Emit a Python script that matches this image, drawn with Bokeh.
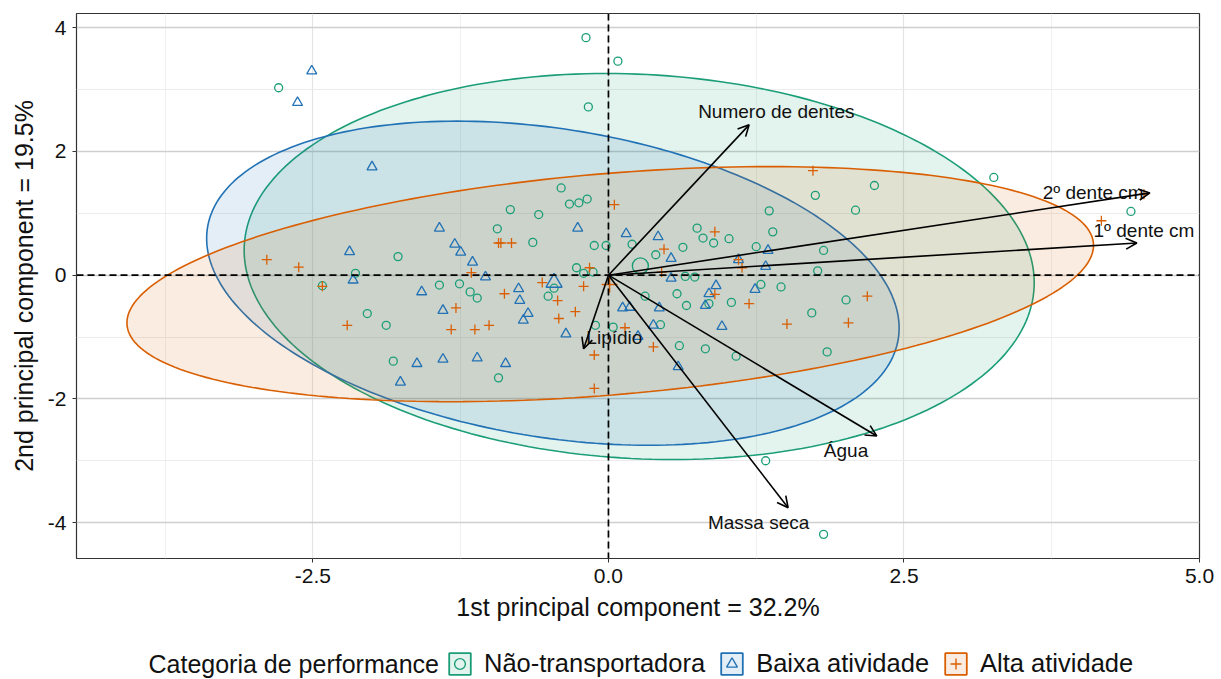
import numpy as np
from bokeh.plotting import figure
from bokeh.layouts import column
from bokeh.models import (ColumnDataSource, Range1d, FixedTicker, Span, Arrow, OpenHead,
                          Legend, LegendItem, Label)
from bokeh.core.properties import value
from bokeh.embed import file_html
from bokeh.resources import INLINE

# ---------------- data ----------------
groups = ["Não-transportadora", "Baixa atividade", "Alta atividade"]
colors = ["#1B9E77", "#2171B5", "#D95F02"]
markers = ["circle", "triangle", "cross"]

nt_x = [-2.79, -0.19, 0.08, -0.17, 3.26, 2.25, 1.75, 4.42, 2.09, 1.36, 1.39, 0.75, 0.80, 0.89,
        1.02, 0.63, 0.40, 0.20, 1.25, 1.82, 1.77, 0.65, 0.73, 1.29, 1.46, 0.31, 0.58, 0.66,
        0.85, 1.04, 2.01, 1.72, 0.44, 0.60, 0.82, 1.08, 1.85, 1.33, 1.82, -0.40, -0.83, -0.59,
        -0.33, -0.25, -0.18, -0.94, -0.64, -0.12, -0.02, -1.78, -2.14, -0.27, -0.21, -0.13,
        -2.42, -1.43, -1.26, -1.17, -1.11, -0.46, -0.51, -2.04, -1.88, -1.82, -0.93, -0.11, 0.04]
nt_y = [3.03, 3.84, 3.46, 2.72, 1.58, 1.45, 1.29, 1.03, 1.05, 1.04, 0.70, 0.76, 0.60, 0.52,
        0.59, 0.45, 0.33, 0.50, 0.46, 0.40, 0.07, -0.02, -0.03, -0.15, -0.19, -0.34, -0.30, -0.49,
        -0.46, -0.44, -0.40, -0.61, -0.80, -1.14, -1.19, -1.31, -1.24, -3.00, -4.19, 1.41, 1.06, 0.98,
        1.15, 1.17, 1.23, 0.75, 0.53, 0.48, 0.48, 0.30, 0.03, 0.12, 0.03, 0.05,
        -0.17, -0.16, -0.14, -0.27, -0.37, -0.21, -0.34, -0.62, -0.81, -1.39, -1.66, -0.81, -0.84]

ba_x = [-2.51, -2.63, -2.00, -1.43, -2.19, -1.30, -1.25, -1.15, -1.04, -2.16, -1.58, -1.40,
        -0.76, -0.75, -0.68, -0.72, -0.26, -0.36, -1.62, -1.40, -1.11, -0.87, -1.76, 0.15, 0.42,
        0.53, 0.53, 1.10, 1.35, 1.33, 0.91, 0.85, 0.82, 1.24, 0.96, 0.12, 0.18, 0.43, 0.38, 0.25, 0.59]
ba_y = [3.30, 2.79, 1.75, 0.76, 0.38, 0.50, 0.37, 0.21, -0.03, -0.08, -0.27, -0.57,
        -0.22, -0.41, -0.62, -0.73, 0.76, -0.95, -1.43, -1.36, -1.34, -1.43, -1.73, 0.67, 0.62,
        0.27, -0.05, 0.25, 0.40, 0.14, -0.17, -0.30, -0.49, -0.23, -0.83, -0.53, -0.52, -0.53, -0.81, -0.99, -1.48]

aa_x = [-2.89, -2.62, -2.42, -2.21, -0.93, -0.91, -0.82, -1.16, -1.29, -1.33, -1.13, -1.01,
        -0.88, -0.56, -0.43, -0.42, -0.28, -0.21, -0.16, -0.12, -0.12, 0.05, 1.73, 0.90, 0.47,
        1.10, 1.13, 0.45, 0.90, 1.19, 2.19, 1.51, 2.03, 0.14, 0.38, 4.53, 4.17]
aa_y = [0.25, 0.13, -0.18, -0.81, 0.52, 0.52, 0.52, 0.04, -0.53, -0.88, -0.88, -0.81,
        -0.30, -0.12, -0.41, -0.70, -0.59, -0.18, 0.12, -1.29, -1.83, 1.14, 1.69, 0.70, 0.42,
        0.25, 0.12, 0.05, -0.31, -0.46, -0.34, -0.79, -0.77, -0.85, -1.16, 1.31, 0.88]

# group centroids (large symbols)
cent_x = [0.27, -0.46, 0.01]
cent_y = [0.15, -0.12, -0.15]

# ellipse parameters: centre, half-width at centre row, vertical half-axis, chord-midpoint slope
ell_cx = [0.26, -0.47, 0.015]
ell_cy = [0.14, -0.13, -0.145]
ell_w = [3.33, 2.815, 3.86]
ell_ry = [3.12, 2.62, 1.90]
ell_k = [-0.09, -0.309, 0.709]

# loading vectors
var_names = ["Numero de dentes", "2º dente cm", "1º dente cm", "Água", "Massa seca", "Lipídio"]
var_x = [1.19, 4.58, 4.47, 2.27, 1.52, -0.21]
var_y = [2.43, 1.33, 0.52, -2.60, -3.76, -1.19]
lab_x = [1.42, 4.10, 4.53, 2.01, 1.27, 0.05]
lab_y = [2.65, 1.33, 0.73, -2.83, -4.00, -1.01]

x_ticks = [-2.5, 0.0, 2.5, 5.0]
x_tick_labels = ["-2.5", "0.0", "2.5", "5.0"]
x_minor = [-3.75, -1.25, 1.25, 3.75]
y_ticks = [-4, -2, 0, 2, 4]
y_tick_labels = ["-4", "-2", "0", "2", "4"]
y_minor = [-3, -1, 1, 3]

x_title = "1st principal component = 32.2%"
y_title = "2nd principal component = 19.5%"
legend_title = "Categoria de performance"

FONT = "Liberation Sans"
LEG_H = 50

# ---------------- main figure ----------------
p = figure(width=1221, height=679 - LEG_H, x_range=Range1d(-4.5, 5.0), y_range=Range1d(-4.58, 4.23),
           output_backend="svg", toolbar_location=None,
           min_border_left=76, min_border_right=22, min_border_top=13, min_border_bottom=121 - LEG_H)
p.outline_line_color = "#333333"
p.outline_line_width = 1.2
p.background_fill_color = "white"
p.border_fill_color = "white"

xt = FixedTicker(ticks=x_ticks, minor_ticks=x_minor)
yt = FixedTicker(ticks=y_ticks, minor_ticks=y_minor)
p.xaxis.ticker = xt
p.yaxis.ticker = yt
p.xgrid.ticker = xt
p.ygrid.ticker = yt
p.xgrid.grid_line_color = "#e4e4e4"
p.xgrid.grid_line_width = 1.2
p.xgrid.minor_grid_line_color = "#f0f0f0"
p.ygrid.grid_line_color = "#cfcfcf"
p.ygrid.grid_line_width = 1.6
p.ygrid.minor_grid_line_color = "#ececec"
p.ygrid.minor_grid_line_width = 1.2

p.xaxis.major_label_overrides = {t: s for t, s in zip(x_ticks, x_tick_labels)}
p.yaxis.major_label_overrides = {t: s for t, s in zip(y_ticks, y_tick_labels)}
p.xaxis.axis_label = x_title
p.yaxis.axis_label = y_title
for ax in (p.xaxis[0], p.yaxis[0]):
    ax.axis_line_color = None
    ax.major_tick_out = 4
    ax.major_tick_in = 0
    ax.minor_tick_out = 0
    ax.minor_tick_in = 0
    ax.major_tick_line_color = "#333333"
    ax.major_label_text_font = FONT
    ax.major_label_text_font_size = "21px"
    ax.major_label_text_color = "#111111"
    ax.major_label_standoff = 6
    ax.axis_label_text_font = FONT
    ax.axis_label_text_font_size = "25px"
    ax.axis_label_text_font_style = "normal"
    ax.axis_label_text_color = "#111111"
    ax.axis_label_standoff = 7

# ellipses
t = np.linspace(0, 2 * np.pi, 241)
ell_src = []
for i in range(3):
    ey = ell_cy[i] + ell_ry[i] * np.sin(t)
    ex = ell_cx[i] + ell_k[i] * ell_ry[i] * np.sin(t) + ell_w[i] * np.cos(t)
    src = ColumnDataSource(dict(x=ex, y=ey))
    ell_src.append(src)
    p.patch("x", "y", source=src, fill_color=colors[i], fill_alpha=0.12,
            line_color=colors[i], line_width=1.6)

# points
pts = [(nt_x, nt_y), (ba_x, ba_y), (aa_x, aa_y)]
sizes = [8, 10, 10]
pt_src = []
for i in range(3):
    src = ColumnDataSource(dict(x=pts[i][0], y=pts[i][1]))
    pt_src.append(src)
    p.scatter("x", "y", source=src, marker=markers[i], size=sizes[i],
              line_color=colors[i], fill_color=None, line_width=1.3)
    csrc = ColumnDataSource(dict(x=[cent_x[i]], y=[cent_y[i]]))
    p.scatter("x", "y", source=csrc, marker=markers[i], size=16,
              line_color=colors[i], fill_color=None, line_width=1.4)

# zero lines
p.add_layout(Span(location=0, dimension="width", line_color="black", line_dash="7 4", line_width=1.7))
p.add_layout(Span(location=0, dimension="height", line_color="black", line_dash="7 4", line_width=1.7))

# loading arrows
asrc = ColumnDataSource(dict(x0=[0.0] * len(var_x), y0=[0.0] * len(var_x), x1=var_x, y1=var_y))
p.add_layout(Arrow(end=OpenHead(size=11, line_width=1.6, line_color="black"),
                   x_start="x0", y_start="y0", x_end="x1", y_end="y1", source=asrc,
                   line_width=1.6, line_color="black"))
lsrc = ColumnDataSource(dict(x=lab_x, y=lab_y, name=var_names))
p.text(x="x", y="y", text="name", source=lsrc, text_font=value(FONT),
       text_font_size=value("19px"), text_align="center", text_baseline="middle",
       text_color="#111111")

# ---------------- legend strip ----------------
# the strip's ranges lie far away from the data, so its renderers only feed the legend keys
lg = figure(width=1221, height=LEG_H, x_range=Range1d(100, 101), y_range=Range1d(100, 101),
            output_backend="svg", toolbar_location=None, min_border=0,
            x_axis_location=None, y_axis_location=None)
lg.outline_line_color = None
lg.xgrid.visible = False
lg.ygrid.visible = False
lg.border_fill_color = "white"

items = []
for i in range(3):
    kp = lg.patch("x", "y", source=ell_src[i], fill_color=colors[i], fill_alpha=0.12,
                  line_color=colors[i], line_width=1.8)
    km = lg.scatter("x", "y", source=pt_src[i], marker=markers[i], line_color=colors[i],
                    fill_color=None, line_width=1.4)
    items.append(LegendItem(label=groups[i], renderers=[kp, km]))
legend = Legend(items=items, orientation="horizontal", location=(370, 1),
                glyph_width=27, glyph_height=27, label_text_font=FONT,
                label_text_font_size="25.5px", label_standoff=11, spacing=13,
                padding=0, margin=0, border_line_color=None, background_fill_alpha=0,
                label_text_color="#111111")
lg.add_layout(legend, "center")
lg.add_layout(Label(x=72, y=16, x_units="screen", y_units="screen", text=legend_title,
                    text_font=FONT, text_font_size="25px", text_baseline="middle",
                    text_align="left", text_color="#111111"))

layout = column(p, lg, spacing=0)
open("out.html", "w").write(file_html(layout, INLINE))
